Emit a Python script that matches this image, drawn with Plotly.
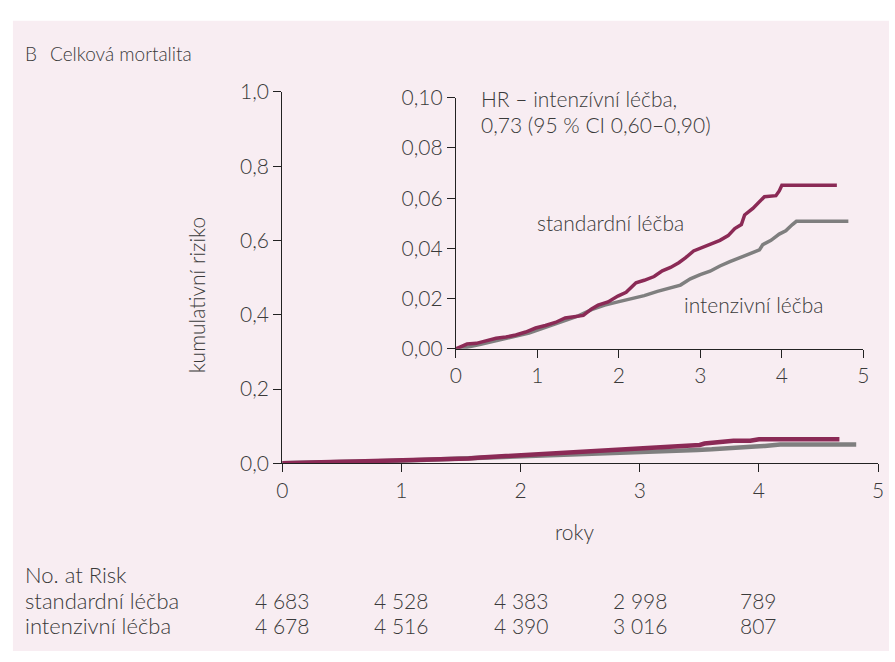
import plotly.graph_objects as go

# ---- data ----
std_t = [0, 0.069, 0.137, 0.251, 0.372, 0.493, 0.614, 0.735, 0.857, 0.978, 1.099, 1.220, 1.341, 1.463,
         1.564, 1.665, 1.745, 1.867, 1.988, 2.089, 2.170, 2.210, 2.311, 2.432, 2.533, 2.634, 2.735,
         2.816, 2.917, 3.018, 3.119, 3.240, 3.341, 3.422, 3.503, 3.543, 3.644, 3.725, 3.786, 3.927,
         3.968, 4.000, 4.675]
std_r = [0, 0.0009, 0.0019, 0.0022, 0.0032, 0.0042, 0.0047, 0.0055, 0.0067, 0.0083, 0.0093, 0.0105,
         0.0123, 0.0127, 0.0133, 0.0159, 0.0174, 0.0187, 0.0210, 0.0225, 0.0250, 0.0263, 0.0273,
         0.0288, 0.0311, 0.0324, 0.0343, 0.0362, 0.0390, 0.0403, 0.0415, 0.0432, 0.0451, 0.0479,
         0.0495, 0.0533, 0.0559, 0.0584, 0.0606, 0.0610, 0.0629, 0.0651, 0.0651]
int_t = [0, 0.129, 0.291, 0.493, 0.695, 0.897, 1.099, 1.301, 1.503, 1.665, 1.826, 1.988, 2.149, 2.311,
         2.473, 2.634, 2.756, 2.877, 2.998, 3.119, 3.240, 3.362, 3.483, 3.604, 3.725, 3.766, 3.867,
         3.968, 4.048, 4.129, 4.178, 4.816]
int_r = [0, 0.0006, 0.0017, 0.0032, 0.0047, 0.0063, 0.0086, 0.0108, 0.0131, 0.0156, 0.0174, 0.0187,
         0.0199, 0.0212, 0.0229, 0.0245, 0.0254, 0.0279, 0.0296, 0.0309, 0.0330, 0.0347, 0.0362,
         0.0377, 0.0394, 0.0415, 0.0432, 0.0457, 0.0470, 0.0495, 0.0508, 0.0508]

risk_years = [0, 1, 2, 3, 4]
risk_std = ["4 683", "4 528", "4 383", "2 998", "789"]
risk_int = ["4 678", "4 516", "4 390", "3 016", "807"]
series_names = ["standardní léčba", "intenzivní léčba"]

main_yticks = [0, 0.2, 0.4, 0.6, 0.8, 1.0]
inset_yticks = [0, 0.02, 0.04, 0.06, 0.08, 0.10]
xticks = [0, 1, 2, 3, 4, 5]

# ---- style ----
W, H = 895, 662
BG = "#f8edf2"
MAROON = "#8b2a56"
GRAY = "#7f7f7f"
TXT = "#3a3a3a"
FONT = "Lato"
FS = 21

def px(x):
    return x / W

def py(y):
    return 1 - y / H

fig = go.Figure()

# main curves
fig.add_trace(go.Scatter(x=int_t, y=int_r, mode="lines", line=dict(color=GRAY, width=4.5),
                         xaxis="x", yaxis="y", showlegend=False, hoverinfo="skip"))
fig.add_trace(go.Scatter(x=std_t, y=std_r, mode="lines", line=dict(color=MAROON, width=4.5),
                         xaxis="x", yaxis="y", showlegend=False, hoverinfo="skip"))
# inset curves
fig.add_trace(go.Scatter(x=int_t, y=int_r, mode="lines", line=dict(color=GRAY, width=3.5),
                         xaxis="x2", yaxis="y2", showlegend=False, hoverinfo="skip"))
fig.add_trace(go.Scatter(x=std_t, y=std_r, mode="lines", line=dict(color=MAROON, width=3.5),
                         xaxis="x2", yaxis="y2", showlegend=False, hoverinfo="skip"))

axis_common = dict(showgrid=False, zeroline=False, showline=True, linecolor="#222", linewidth=1,
                   ticks="outside", tickcolor="#222", ticklen=8, tickwidth=1,
                   tickfont=dict(family=FONT, size=FS, color=TXT, weight=300))

fig.update_layout(
    width=W, height=H,
    margin=dict(l=0, r=0, t=0, b=0),
    paper_bgcolor="white", plot_bgcolor="rgba(0,0,0,0)",
    separators=", ",
    font=dict(family=FONT, color=TXT, size=FS),
    xaxis=dict(domain=[px(280), px(884)], range=[0, 5], tickvals=xticks, anchor="y", **axis_common),
    yaxis=dict(domain=[py(467), py(81)], range=[0, 1], tickvals=main_yticks, tickformat=".1f",
               anchor="x", **axis_common),
    xaxis2=dict(domain=[px(456), px(869)], range=[0, 5], tickvals=xticks, anchor="y2", **axis_common),
    yaxis2=dict(domain=[py(348), py(87)], range=[0, 0.1], tickvals=inset_yticks, tickformat=".2f",
                anchor="x2", **axis_common),
    shapes=[dict(type="rect", xref="paper", yref="paper", x0=px(7), x1=1, y0=0, y1=py(7),
                 fillcolor=BG, line=dict(width=0), layer="below")],
)

ann = []
def add_text(text, x, y, xanchor="left", angle=0, size=FS):
    ann.append(dict(text=text, x=px(x), y=py(y), xref="paper", yref="paper", xanchor=xanchor,
                    yanchor="middle", showarrow=False, textangle=angle, borderpad=0,
                    font=dict(family=FONT, size=size, color=TXT, weight=300)))

add_text("B", 18, 41, size=19)
add_text("Celková mortalita", 44, 41, size=19)
add_text("kumulativní riziko", 194, 292, "center", -90)
add_text("roky", 577, 538, "center")
add_text("HR – intenzívní léčba,", 480, 88)
add_text("0,73 (95 % CI 0,60–0,90)", 480, 115)
add_text(series_names[0], 613, 217, "center")
add_text(series_names[1], 758, 302, "center")
add_text("No. at Risk", 18, 582, size=22)
add_text(series_names[0], 18, 610, size=22)
add_text(series_names[1], 18, 636, size=22)
for i, yr in enumerate(risk_years):
    xpix = 280 + yr * (884 - 280) / 5
    add_text(risk_std[i], xpix, 610, "center")
    add_text(risk_int[i], xpix, 636, "center")
fig.update_layout(annotations=ann)

fig.write_html("out.html")
